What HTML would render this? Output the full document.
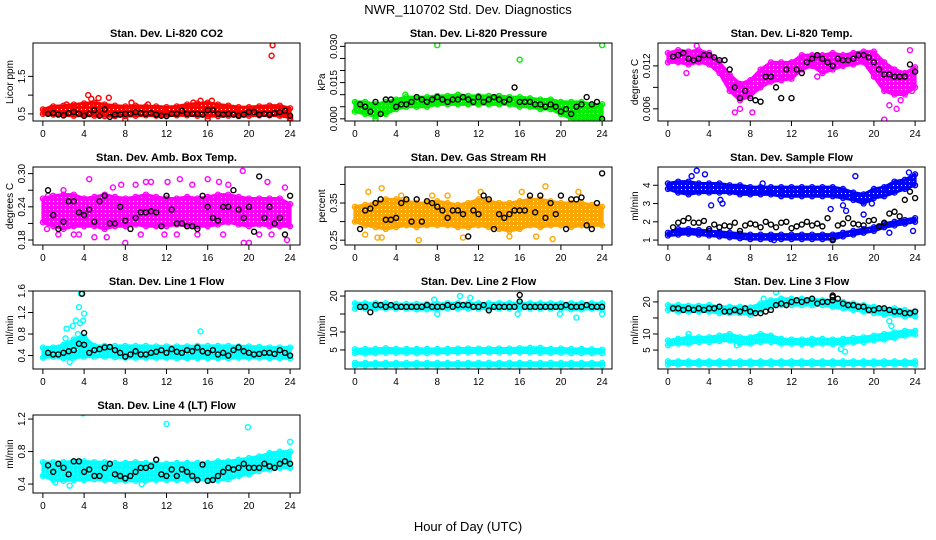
<!DOCTYPE html>
<html><head><meta charset="utf-8">
<style>
html,body{margin:0;padding:0;background:#fff;}
svg{display:block;font-family:"Liberation Sans",Arial,sans-serif;}
</style></head>
<body>
<svg id="chart" width="936" height="540" viewBox="0 0 936 540" xmlns="http://www.w3.org/2000/svg">
<rect width="936" height="540" fill="#fff"/>
<text x="468" y="14" font-size="13" text-anchor="middle">NWR_110702  Std. Dev. Diagnostics</text>
<text x="468" y="531" font-size="13" text-anchor="middle">Hour of Day (UTC)</text>
</svg>
<script>
const xTicks=[0,4,8,12,16,20,24];
// Panel 1 CO2
const co2Hi=[0.62,0.7,0.72,0.75,0.78,0.8,0.75,0.72,0.7,0.72,0.7,0.7,0.68,0.7,0.75,0.78,0.8,0.75,0.72,0.68,0.68,0.7,0.72,0.72,0.65];
const co2Lo=[0.5,0.48,0.46,0.45,0.45,0.45,0.44,0.44,0.44,0.45,0.46,0.45,0.45,0.46,0.46,0.45,0.44,0.44,0.45,0.44,0.45,0.46,0.46,0.45,0.4];
const co2Extra=[[4.4,1.0],[4.7,0.9],[5.4,0.92],[6.4,0.93],[8.6,0.8],[16.4,0.85],[15.3,0.85],[22.2,2.05],[22.3,2.33],[8,0.35],[24,0.35],[16,0.37],[0.8,0.65],[2.3,0.75],[10.2,0.75],[14.6,0.8]];
const co2Black=[0.5,0.52,0.48,0.46,0.52,0.55,0.5,0.45,0.5,0.6,0.45,0.62,0.42,0.48,0.48,0.5,0.5,0.55,0.52,0.5,0.52,0.48,0.45,0.44,0.5,0.5,0.58,0.5,0.5,0.5,0.48,0.6,0.6,0.5,0.48,0.5,0.48,0.45,0.48,0.55,0.55,0.48,0.5,0.48,0.52,0.55,0.58,0.45];
// Panel 2 pressure
const prHi=[0.007,0.007,0.006,0.007,0.008,0.009,0.009,0.009,0.0095,0.0095,0.01,0.0095,0.0095,0.0095,0.0095,0.009,0.009,0.0085,0.008,0.008,0.007,0.007,0.007,0.006,0.006];
const prLo=[0.003,0.002,0.001,0.002,0.004,0.005,0.005,0.005,0.006,0.006,0.006,0.006,0.006,0.006,0.006,0.006,0.005,0.005,0.004,0.004,0.002,0.0,0.0,0.0,0.0];
const prExtra=[[8,0.0305],[16,0.0245],[24,0.0305],[2,0.0],[4.9,0.01]];
const prBlack=[0.006,0.005,0.003,0.007,0.002,0.008,0.008,0.005,0.006,0.006,0.007,0.009,0.008,0.007,0.008,0.009,0.008,0.007,0.008,0.008,0.009,0.008,0.007,0.009,0.007,0.008,0.009,0.008,0.007,0.008,0.013,0.007,0.007,0.007,0.006,0.006,0.005,0.006,0.005,0.003,0.004,0.002,0.005,0.006,0.009,0.006,0.007,0.0];
// Panel 3 Li-820 temp
const ltHi=[0.0138,0.0142,0.014,0.0142,0.0138,0.0125,0.0108,0.0095,0.01,0.0115,0.0125,0.0125,0.0125,0.0135,0.0135,0.0135,0.0138,0.0135,0.0138,0.014,0.014,0.0125,0.0115,0.011,0.0118];
const ltLo=[0.0125,0.0125,0.0122,0.0125,0.0122,0.011,0.0085,0.0072,0.0078,0.009,0.0098,0.01,0.0102,0.0115,0.012,0.011,0.0115,0.012,0.0122,0.0125,0.0105,0.0085,0.008,0.008,0.009];
const ltExtra=[[6.5,0.0055],[7,0.006],[8.2,0.0055],[21,0.0045],[21.5,0.0065],[22.2,0.006],[23.5,0.0142],[6.8,0.0095],[1.8,0.011],[14.5,0.0105],[2.8,0.0148],[5.5,0.0102],[22.6,0.0072],[23.7,0.0085]];
const ltBlack=[0.0133,0.0135,0.0138,0.013,0.0128,0.013,0.0135,0.0135,0.0132,0.0128,0.0128,0.0115,0.009,0.0075,0.0085,0.0075,0.0072,0.007,0.0105,0.0105,0.009,0.0075,0.0115,0.0075,0.0115,0.011,0.0125,0.013,0.0135,0.013,0.0125,0.012,0.013,0.0128,0.0128,0.013,0.0135,0.0135,0.0132,0.0125,0.0115,0.0108,0.0108,0.0105,0.0105,0.0105,0.0122,0.0112];
// Panel 4 amb box temp
const abHi=[0.255,0.26,0.262,0.262,0.255,0.258,0.262,0.258,0.255,0.258,0.262,0.258,0.255,0.255,0.258,0.255,0.258,0.262,0.262,0.258,0.255,0.255,0.255,0.255,0.245];
const abLo=[0.212,0.205,0.2,0.205,0.205,0.205,0.2,0.205,0.205,0.208,0.205,0.205,0.205,0.208,0.205,0.205,0.205,0.208,0.212,0.208,0.205,0.208,0.205,0.205,0.205];
const abExtra=[[0.4,0.2],[2,0.27],[4.5,0.29],[5,0.185],[6.8,0.275],[8,0.175],[10,0.285],[10.5,0.285],[12.1,0.285],[13.3,0.29],[14.5,0.28],[17.1,0.285],[19.4,0.305],[19.5,0.175],[20,0.175],[21.8,0.285],[22.2,0.19],[23.7,0.18],[23.5,0.275],[1.5,0.19],[3,0.19],[6.2,0.185],[9,0.28],[16,0.29],[18,0.28],[7.6,0.28],[11.8,0.19],[15,0.19],[0.5,0.26],[3.5,0.19],[9.5,0.19],[13,0.19],[17.5,0.19],[21,0.19]];
const abBlack=[0.27,0.225,0.2,0.213,0.25,0.25,0.23,0.225,0.235,0.213,0.25,0.26,0.21,0.21,0.24,0.215,0.2,0.22,0.23,0.23,0.232,0.23,0.205,0.26,0.235,0.21,0.21,0.205,0.205,0.2,0.26,0.24,0.22,0.215,0.24,0.24,0.27,0.235,0.22,0.24,0.195,0.295,0.22,0.24,0.21,0.22,0.19,0.26];
// Panel 5 gas stream RH
const rhHi=[0.34,0.345,0.35,0.36,0.36,0.355,0.35,0.35,0.355,0.35,0.345,0.35,0.36,0.355,0.35,0.35,0.355,0.36,0.36,0.355,0.35,0.35,0.35,0.345,0.34];
const rhLo=[0.3,0.29,0.285,0.28,0.285,0.29,0.285,0.29,0.29,0.29,0.285,0.285,0.29,0.285,0.28,0.275,0.28,0.29,0.285,0.29,0.29,0.285,0.29,0.29,0.29];
const rhExtra=[[1.3,0.38],[2.6,0.39],[2.2,0.257],[2.6,0.257],[6.2,0.25],[7.5,0.37],[10.5,0.257],[12.2,0.38],[15,0.26],[16.2,0.38],[17.6,0.26],[18.5,0.395],[19.2,0.253],[21.7,0.38],[4.5,0.37],[9,0.37],[1,0.265]];
const rhBlack=[0.28,0.33,0.335,0.35,0.36,0.305,0.305,0.31,0.35,0.36,0.3,0.36,0.3,0.355,0.35,0.34,0.33,0.31,0.33,0.33,0.32,0.26,0.33,0.32,0.37,0.36,0.28,0.32,0.31,0.32,0.33,0.33,0.33,0.37,0.325,0.37,0.31,0.35,0.32,0.37,0.28,0.36,0.36,0.365,0.29,0.28,0.35,0.43];
// Panel 6 sample flow
const sfUpHi=[4.1,4.2,4.2,4.1,4.1,4.1,4.0,4.0,3.9,3.9,3.9,3.9,3.9,3.9,3.9,3.9,3.9,3.8,3.6,3.5,3.8,3.9,4.2,4.3,4.6];
const sfUpLo=[3.8,3.6,3.5,3.6,3.6,3.6,3.6,3.5,3.5,3.5,3.5,3.4,3.4,3.4,3.4,3.4,3.4,3.3,3.2,3.0,3.3,3.4,3.6,3.8,4.0];
const sfLowHi=[1.4,1.6,1.6,1.55,1.5,1.45,1.4,1.35,1.3,1.3,1.3,1.3,1.3,1.3,1.3,1.3,1.3,1.4,1.5,1.6,1.7,1.9,2.0,2.1,2.2];
const sfLowLo=[1.25,1.3,1.35,1.3,1.25,1.2,1.15,1.1,1.05,1.05,1.05,1.05,1.05,1.05,1.05,1.05,1.05,1.2,1.3,1.4,1.5,1.7,1.8,1.9,2.0];
const sfExtra=[[2.3,4.5],[2.8,4.8],[3.6,4.6],[4.2,2.9],[5.1,3.2],[5.3,3.0],[9.2,4.1],[15.8,2.7],[17,2.9],[17.3,2.6],[18.2,4.5],[19,2.4],[19.8,3.0],[21.5,1.4],[23.4,4.7],[23.8,1.5],[10.3,1.0],[16,1.0]];
const sfBlack=[1.7,1.95,2.05,2.2,1.95,1.95,2.05,1.6,1.85,1.7,1.8,1.75,1.95,1.5,1.8,1.9,1.85,1.7,2.0,1.85,1.7,1.95,2.0,1.65,1.75,1.85,2.0,1.8,1.9,1.75,2.2,1.0,1.8,1.9,2.2,1.9,1.85,1.8,2.05,2.1,1.75,1.95,2.45,2.55,2.3,3.2,3.65,3.3];
// Panel 7 line 1
const l1Hi=[0.55,0.55,0.6,0.7,0.75,0.58,0.58,0.58,0.58,0.58,0.58,0.57,0.57,0.57,0.57,0.58,0.58,0.58,0.58,0.57,0.57,0.56,0.55,0.55,0.55];
const l1Lo=[0.36,0.38,0.35,0.36,0.38,0.38,0.38,0.37,0.36,0.36,0.36,0.36,0.36,0.35,0.35,0.35,0.35,0.35,0.35,0.36,0.36,0.36,0.35,0.35,0.35];
const l1Extra=[[2.2,0.72],[2.3,0.9],[2.9,0.95],[3.2,1.05],[3.5,1.3],[3.6,1.0],[3.9,1.05],[4.0,1.18],[3.7,1.55],[3.4,0.8],[15.3,0.85],[2.6,0.28]];
const l1Black=[0.45,0.42,0.42,0.45,0.48,0.5,0.62,0.6,0.45,0.5,0.52,0.55,0.56,0.5,0.45,0.38,0.42,0.48,0.42,0.42,0.45,0.47,0.5,0.45,0.52,0.47,0.45,0.5,0.48,0.55,0.48,0.45,0.5,0.42,0.45,0.4,0.5,0.55,0.48,0.45,0.42,0.43,0.45,0.45,0.43,0.5,0.45,0.4];
const l1BlackExtra=[[3.8,1.55],[4,0.82]];
// Panel 8 line 2
const l2TopHi=[18,18,18,18,17.8,17.8,17.8,17.8,17.8,18,18,18,18,18,18,18,18,18,18,18,18,18,18,18,18];
const l2TopLo=[16.5,16.5,16.5,16.5,16.5,16.5,16.3,16.3,16.3,16.5,16.5,16.5,16.5,16.5,16.5,16.5,16.5,16.5,16.5,16.5,16.5,16.3,16.3,16.5,16.3];
const l2MidHi=[5.2,5.3,5.3,5.5,5.3,5.3,5.3,5.3,5.3,5.3,5.4,5.4,5.4,5.4,5.4,5.4,5.5,5.6,5.6,5.3,5.4,5.3,5.3,5.2,5.1];
const l2MidLo=[4.1,4.0,4.1,4.2,4.2,4.2,4.1,4.1,4.2,4.2,4.3,4.3,4.3,4.3,4.3,4.3,4.3,4.3,4.2,4.2,4.2,4.1,4.1,4.1,4.1];
const l2LowHi=[1.4,1.4,1.4,1.4,1.4,1.4,1.4,1.4,1.4,1.4,1.4,1.4,1.4,1.4,1.4,1.4,1.4,1.4,1.4,1.4,1.4,1.4,1.4,1.4,1.4];
const l2LowLo=[0.7,0.7,0.7,0.7,0.7,0.7,0.7,0.7,0.7,0.7,0.7,0.7,0.7,0.7,0.7,0.7,0.7,0.7,0.7,0.7,0.7,0.7,0.7,0.7,0.7];
const l2Extra=[[7.7,19],[10.2,20],[11.2,19.5],[15.8,15],[19.9,15],[21.5,14],[24,15],[8,15]];
const l2Black=[17,17,15.5,17.5,17.5,17,17.5,17,17,17,17,17,17,17.5,17,17,17,17.5,17,17.5,17.5,17.5,17,17,17.5,16,17,17,17,17,17,18.5,17,17,17,17,17,17,17,17,17.5,17,17,17,17.5,17,17,17];
const l2BlackExtra=[[16,20.3]];
// Panel 9 line 3
const l3TopHi=[19,19,18.8,18.8,19,18.5,18.5,18.5,18.3,19.5,20.5,21,21,21,21,20.5,20.5,20,19.5,19,18.5,18,18,17.5,17];
const l3TopLo=[17.5,17,17,17,17,16.5,16.5,16.5,16,17.5,18.5,19,19,19,19,19,18.5,18,17.5,17,16.5,16,16,15.5,15.5];
const l3MidHi=[8,8.5,9,9,9,9.5,10,9,9,10,9.5,8.5,8.3,8.3,8.5,8.5,8.3,8.5,8.8,9,9.5,10,10.5,11,11];
const l3MidLo=[6.5,7,7,7.5,7.5,7.8,8,7,7,7.5,7.5,7,7,6.8,6.8,7,6.8,7,7.3,7.5,8,8.3,8.8,9.5,9.8];
const l3LowHi=[1.5,1.5,1.5,1.5,1.5,1.5,1.5,1.5,1.5,1.5,1.5,1.5,1.5,1.5,1.5,1.5,1.5,1.5,1.5,1.5,1.5,1.5,1.5,1.5,1.5];
const l3LowLo=[0.5,0.5,0.5,0.5,0.5,0.5,0.5,0.5,0.5,0.5,0.5,0.5,0.5,0.5,0.5,0.5,0.5,0.5,0.5,0.5,0.5,0.5,0.5,0.5,0.5];
const l3Extra=[[10.5,23],[9.3,21],[21.5,14],[21.7,12.5],[16,20],[24,15.5],[16.8,5.3],[17.2,4.5],[6.7,6.5],[2,10]];
const l3Black=[18,18,17.5,18,17.5,18,17.5,18,18,18.5,17,17,17.5,17,18,17,16.5,16.5,17,17.5,19,19.5,19,20,20.5,20,20.5,21,19.5,20,20,20.5,21,19.5,19,19,18.5,18.5,17.5,17.5,18,18,17.5,17,17,16.5,16.5,17];
const l3BlackExtra=[[16,22],[16,21.5]];
// Panel 10 line 4
const l4Hi=[0.67,0.67,0.67,0.68,0.68,0.67,0.67,0.66,0.66,0.67,0.66,0.65,0.65,0.66,0.66,0.66,0.66,0.68,0.68,0.7,0.72,0.74,0.78,0.8,0.8];
const l4Lo=[0.5,0.45,0.44,0.45,0.45,0.46,0.45,0.44,0.44,0.44,0.44,0.45,0.45,0.45,0.45,0.45,0.45,0.45,0.46,0.5,0.52,0.56,0.58,0.6,0.6];
const l4Extra=[[3.9,1.27],[12,1.14],[19.9,1.1],[24,0.92],[2.6,0.38],[9.6,0.4],[1.2,0.42]];
const l4Black=[0.63,0.55,0.65,0.6,0.52,0.68,0.68,0.55,0.58,0.5,0.5,0.6,0.65,0.52,0.5,0.47,0.5,0.55,0.6,0.6,0.62,0.7,0.52,0.5,0.58,0.5,0.58,0.55,0.5,0.45,0.64,0.44,0.45,0.5,0.55,0.6,0.58,0.6,0.65,0.6,0.6,0.6,0.65,0.62,0.6,0.65,0.68,0.65];

const panels=[
 {name:'li820-co2',title:'Stan. Dev. Li-820 CO2',ylab:'Licor ppm',col:0,row:0,ymin:0.31,ymax:2.39,ticks:[0.5,1.0,1.5],labels:['0.5','','1.5'],color:'#ff0000',bands:[[co2Lo,co2Hi]],extra:co2Extra,black:co2Black,bx:[]},
 {name:'li820-pressure',title:'Stan. Dev. Li-820 Pressure',ylab:'kPa',col:1,row:0,ymin:-0.0009,ymax:0.0314,ticks:[0,0.005,0.01,0.015,0.02,0.025,0.03],labels:['0.000','','','0.015','','','0.030'],color:'#00ee00',bands:[[prLo,prHi]],extra:prExtra,black:prBlack,bx:[]},
 {name:'li820-temp',title:'Stan. Dev. Li-820 Temp.',ylab:'degrees C',col:2,row:0,ymin:0.0043,ymax:0.0152,ticks:[0.006,0.009,0.012],labels:['0.006','','0.012'],color:'#ff00ff',bands:[[ltLo,ltHi]],extra:ltExtra,black:ltBlack,bx:[]},
 {name:'amb-box-temp',title:'Stan. Dev. Amb. Box Temp.',ylab:'degrees C',col:0,row:1,ymin:0.171,ymax:0.312,ticks:[0.18,0.21,0.24,0.27,0.30],labels:['0.18','','0.24','','0.30'],color:'#ff00ff',bands:[[abLo,abHi]],extra:abExtra,black:abBlack,bx:[]},
 {name:'gas-stream-rh',title:'Stan. Dev. Gas Stream RH',ylab:'percent',col:1,row:1,ymin:0.237,ymax:0.447,ticks:[0.25,0.30,0.35,0.40],labels:['0.25','','0.35',''],color:'#ffa500',bands:[[rhLo,rhHi]],extra:rhExtra,black:rhBlack,bx:[]},
 {name:'sample-flow',title:'Stan. Dev. Sample Flow',ylab:'ml/min',col:2,row:1,ymin:0.73,ymax:5.0,ticks:[1,2,3,4],labels:['1','2','3','4'],color:'#0000ff',bands:[[sfUpLo,sfUpHi],[sfLowLo,sfLowHi]],extra:sfExtra,black:sfBlack,bx:[]},
 {name:'line1-flow',title:'Stan. Dev. Line 1 Flow',ylab:'ml/min',col:0,row:2,ymin:0.15,ymax:1.6,ticks:[0.4,0.8,1.2,1.6],labels:['0.4','0.8','1.2','1.6'],color:'#00ffff',bands:[[l1Lo,l1Hi]],extra:l1Extra,black:l1Black,bx:l1BlackExtra},
 {name:'line2-flow',title:'Stan. Dev. Line 2 Flow',ylab:'ml/min',col:1,row:2,ymin:-0.3,ymax:21.4,ticks:[5,10,15,20],labels:['5','10','','20'],color:'#00ffff',bands:[[l2TopLo,l2TopHi],[l2MidLo,l2MidHi],[l2LowLo,l2LowHi]],extra:l2Extra,black:l2Black,bx:l2BlackExtra},
 {name:'line3-flow',title:'Stan. Dev. Line 3 Flow',ylab:'ml/min',col:2,row:2,ymin:-0.9,ymax:23.4,ticks:[5,10,15,20],labels:['5','10','','20'],color:'#00ffff',bands:[[l3TopLo,l3TopHi],[l3MidLo,l3MidHi],[l3LowLo,l3LowHi]],extra:l3Extra,black:l3Black,bx:l3BlackExtra},
 {name:'line4-flow',title:'Stan. Dev. Line 4 (LT) Flow',ylab:'ml/min',col:0,row:3,ymin:0.29,ymax:1.25,ticks:[0.4,0.8,1.2],labels:['0.4','0.8','1.2'],color:'#00ffff',bands:[[l4Lo,l4Hi]],extra:l4Extra,black:l4Black,bx:[]}
];
const svg=document.getElementById('chart');
const NS='http://www.w3.org/2000/svg';
function mk(tag,attrs,parent){const e=document.createElementNS(NS,tag);for(const k in attrs)e.setAttribute(k,attrs[k]);parent.appendChild(e);return e;}
const defs=mk('defs',{},svg);
const patIds={};
panels.forEach(p=>{
 if(patIds[p.color])return;
 const id='pat'+Object.keys(patIds).length;
 patIds[p.color]=id;
 const pat=mk('pattern',{id:id,width:4,height:4,patternUnits:'userSpaceOnUse'},defs);
 mk('rect',{width:4,height:4,fill:p.color},pat);
 mk('rect',{x:1,y:1,width:1,height:1,fill:'#fff'},pat);
});
const colLeft=[33,345,658], W=267, rowTop=[43,167,291,415], H=78;
panels.forEach(p=>{
 const L=colLeft[p.col],T=rowTop[p.row];
 const xs=h=>L+(h+0.96)/25.92*W;
 const ys=v=>T+H-(v-p.ymin)/(p.ymax-p.ymin)*H;
 const g=mk('g',{},svg);
 
 
 const t=mk('text',{x:L+W/2,y:T-6,'font-size':'11','font-weight':'bold','text-anchor':'middle'},g);
 t.textContent=p.title;
 
 
 const clip=mk('clipPath',{id:'c-'+p.name},g);
 mk('rect',{x:L,y:T,width:W,height:H},clip);
 const marks=mk('g',{'clip-path':'url(#c-'+p.name+')'},g);
 p.bands.forEach((b,bi)=>{
  const lo=b[0],hi=b[1];
  let d='';
  hi.forEach((v,i)=>{d+=(i?'L':'M')+xs(i)+','+ys(v);});
  for(let i=lo.length-1;i>=0;i--)d+='L'+xs(i)+','+ys(lo[i]);
  const poly=mk('path',{d:d+'Z',fill:'url(#'+patIds[p.color]+')',stroke:p.color,'stroke-width':'3','stroke-linejoin':'round'},marks);
  
  
  hi.forEach((v,i)=>{
   const c1=mk('circle',{cx:xs(i),cy:ys(v),r:2.5,fill:'none',stroke:p.color,'stroke-width':'1.3'},marks);
   
   
   const c2=mk('circle',{cx:xs(i),cy:ys(lo[i]),r:2.5,fill:'none',stroke:p.color,'stroke-width':'1.3'},marks);
   
   
  });
 });
 p.extra.forEach(pt=>{
  const c=mk('circle',{cx:xs(pt[0]),cy:ys(pt[1]),r:2.5,fill:'none',stroke:p.color,'stroke-width':'1.4'},marks);
  
  
 });
 p.black.forEach((v,i)=>{
  const c=mk('circle',{cx:xs((i+1)*0.5),cy:ys(v),r:2.5,fill:'none',stroke:'#000','stroke-width':'1.4'},marks);
  
  
 });
 p.bx.forEach(pt=>{
  const c=mk('circle',{cx:xs(pt[0]),cy:ys(pt[1]),r:2.5,fill:'none',stroke:'#000','stroke-width':'1.4'},marks);
  
  
 });
 const box=mk('rect',{x:L,y:T,width:W,height:H,fill:'none',stroke:'#000','stroke-width':'1'},g);
 
 
 const B=T+H;
 const xa=mk('g',{},g);
 
 
 mk('line',{x1:xs(0),x2:xs(24),y1:B,y2:B,stroke:'#000'},xa);
 xTicks.forEach(h=>{
  mk('line',{x1:xs(h),x2:xs(h),y1:B,y2:B+5,stroke:'#000'},xa);
  const tl=mk('text',{x:xs(h),y:B+16,'font-size':'10','text-anchor':'middle'},xa);
  tl.textContent=h;
 });
 const ya=mk('g',{},g);
 
 
 p.ticks.forEach((v,i)=>{
  const y=ys(v);
  mk('line',{x1:L-5,x2:L,y1:y,y2:y,stroke:'#000'},ya);
  if(p.labels[i]){
   const tl=mk('text',{x:0,y:0,'font-size':'10','text-anchor':'middle',transform:'translate('+(L-8)+','+y+') rotate(-90)'},ya);
   tl.textContent=p.labels[i];
  }
 });
 const yl=mk('text',{x:0,y:0,'font-size':'10','text-anchor':'middle',transform:'translate('+(L-20)+','+(T+H/2)+') rotate(-90)'},g);
 yl.textContent=p.ylab;
 
 
});
</script>
</body></html>
